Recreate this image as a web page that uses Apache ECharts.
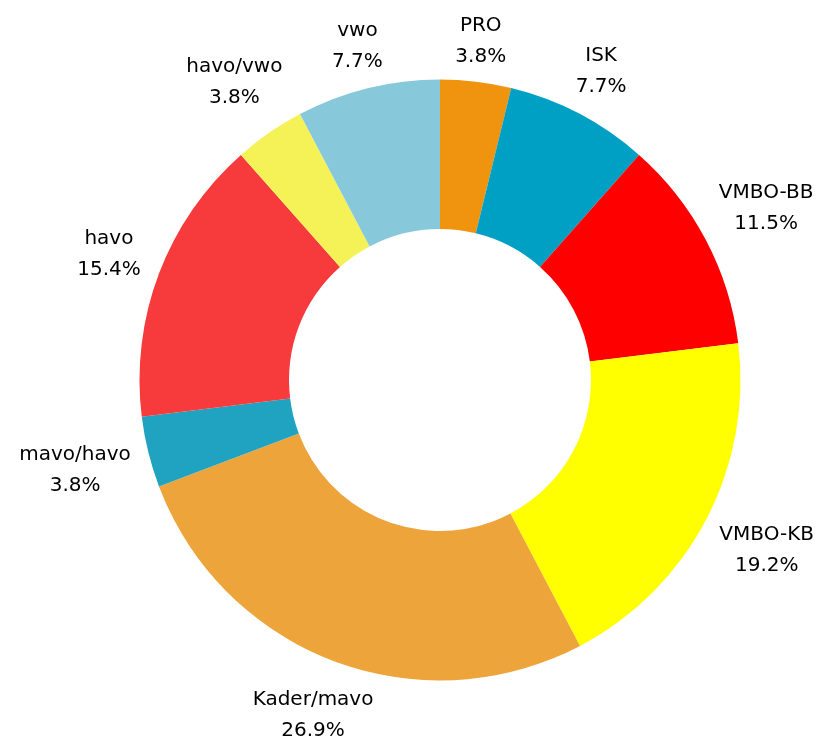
<!DOCTYPE html>
<html>
<head>
<meta charset="utf-8">
<script src="https://cdn.jsdelivr.net/npm/echarts@6/dist/echarts.min.js"></script>
<style>
html,body{margin:0;padding:0;background:#fff;}
#chart{width:830px;height:738px;}
</style>
</head>
<body>
<div id="chart"></div>
<script>
var categories = ['PRO', 'ISK', 'VMBO-BB', 'VMBO-KB', 'Kader/mavo', 'mavo/havo', 'havo', 'havo/vwo', 'vwo'];
var values = [3.8, 7.7, 11.5, 19.2, 26.9, 3.8, 15.4, 3.8, 7.7];
var colors = ['#F0930F', '#00A0C5', '#FF0000', '#FFFF00', '#EDA43B', '#1FA3C0', '#F73B3C', '#F5F257', '#87C9DA'];

var CX = 440, CY = 380, R0 = 151, R = 300.5, GAP = 16, HALF_H = 22;
var total = values.reduce(function(a, b){ return a + b; }, 0);
var mids = [];
(function(){
  var cum = 0;
  for (var i = 0; i < values.length; i++) {
    mids.push((cum + values[i] / 2) / total * 2 * Math.PI);
    cum += values[i];
  }
})();

var chart = echarts.init(document.getElementById('chart'), null, {renderer: 'canvas'});
chart.setOption({
  animation: false,
  series: [{
    type: 'pie',
    center: [CX, CY],
    radius: [R0, R],
    startAngle: 90,
    clockwise: true,
    avoidLabelOverlap: false,
    label: {
      show: true,
      position: 'outside',
      fontFamily: 'DejaVu Sans',
      fontSize: 20,
      lineHeight: 31,
      color: '#000',
      align: 'center',
      formatter: function(p){ return p.name + '\n' + p.value.toFixed(1) + '%'; }
    },
    labelLine: { show: false },
    labelLayout: function(params){
      var t = mids[params.dataIndex];
      var ux = Math.sin(t), uy = -Math.cos(t);
      var w = params.labelRect.width;
      var d = R + GAP + Math.abs(ux) * w / 2 + Math.abs(uy) * HALF_H;
      return {
        x: CX + d * ux,
        y: CY + d * uy,
        align: 'center',
        verticalAlign: 'middle'
      };
    },
    emphasis: { disabled: true },
    data: categories.map(function(c, i){
      return { name: c, value: values[i], itemStyle: { color: colors[i] } };
    })
  }]
});
</script>
</body>
</html>
